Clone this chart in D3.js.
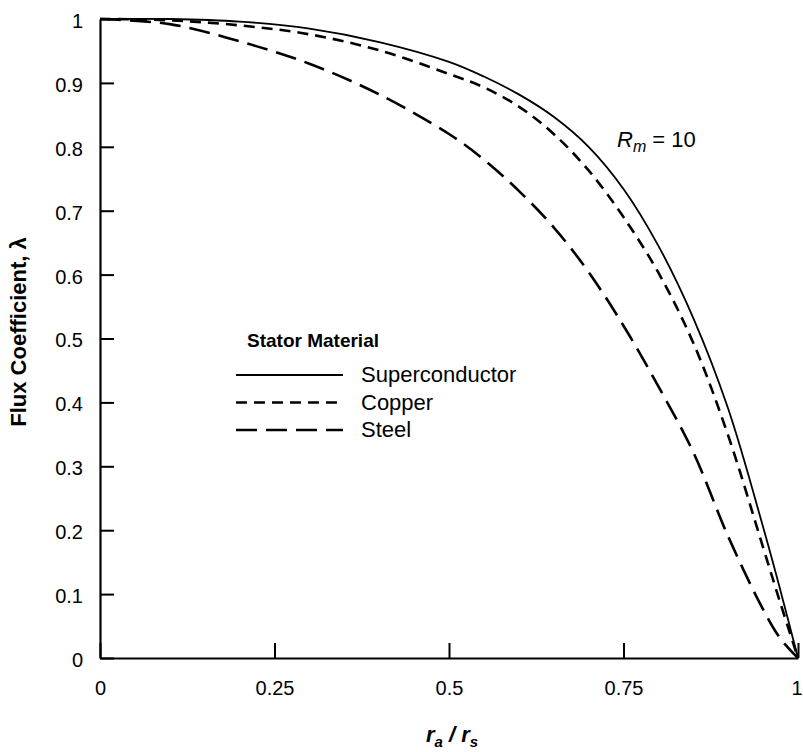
<!DOCTYPE html>
<html>
<head>
<meta charset="utf-8">
<script src="https://cdn.jsdelivr.net/npm/d3@7"></script>
<style>
  body { margin: 0; background: #fff; }
  svg { display: block; }
</style>
</head>
<body>
<div id="chart"></div>
<script>
// Values
const ratio = [0, 0.1, 0.2, 0.3, 0.4, 0.5, 0.55, 0.6, 0.65, 0.7, 0.75, 0.8, 0.85, 0.9, 0.95, 0.975, 1];
const superconductor = [1, 1, 0.996, 0.985, 0.964, 0.933, 0.91, 0.882, 0.847, 0.8, 0.734, 0.645, 0.532, 0.39, 0.205, 0.105, 0];
const copper = [1, 0.998, 0.99, 0.976, 0.951, 0.914, 0.893, 0.863, 0.82, 0.763, 0.69, 0.603, 0.493, 0.348, 0.173, 0.085, 0];
const steel = [1, 0.992, 0.965, 0.93, 0.882, 0.82, 0.78, 0.731, 0.674, 0.604, 0.52, 0.425, 0.322, 0.19, 0.076, 0.03, 0];

const xTicks = [0, 0.25, 0.5, 0.75, 1];
const xTickLabels = ["0", "0.25", "0.5", "0.75", "1"];
const yTicks = [0, 0.1, 0.2, 0.3, 0.4, 0.5, 0.6, 0.7, 0.8, 0.9, 1];
const yTickLabels = ["0", "0.1", "0.2", "0.3", "0.4", "0.5", "0.6", "0.7", "0.8", "0.9", "1"];

const seriesNames = ["Superconductor", "Copper", "Steel"];
const seriesDash = ["none", "11,7", "21,9"];

const width = 803, height = 752;
const font = "'Liberation Sans', Arial, sans-serif";

const svg = d3.select("#chart")
  .append("svg")
  .attr("width", width)
  .attr("height", height);

const x = d3.scaleLinear().domain([0, 1]).range([100, 798]);
const y = d3.scaleLinear().domain([0, 1]).range([658, 19]);

// Y axis, ticks pointing in
const yAxis = svg.append("g")
  .attr("transform", `translate(${x(0)},0)`)
  .call(d3.axisLeft(y)
    .tickValues(yTicks)
    .tickFormat((d, i) => yTickLabels[i])
    .tickSizeInner(-14)
    .tickSizeOuter(0)
    .tickPadding(17));

// X axis, ticks pointing up
const xAxis = svg.append("g")
  .attr("transform", `translate(0,${y(0)})`)
  .call(d3.axisBottom(x)
    .tickValues(xTicks)
    .tickFormat((d, i) => xTickLabels[i])
    .tickSizeInner(-15)
    .tickSizeOuter(0)
    .tickPadding(23));

[yAxis, xAxis].forEach(g => {
  g.select(".domain").attr("stroke", "#000").attr("stroke-width", 2.2);
  g.selectAll(".tick line").attr("stroke", "#000").attr("stroke-width", 2);
  g.selectAll(".tick text")
    .attr("fill", "#000")
    .style("font-family", font)
    .style("font-size", "20px");
});
yAxis.selectAll(".tick text").attr("dy", "0.42em");
// keep the last x label inside the picture
xAxis.selectAll(".tick text").filter(d => d === 1).attr("text-anchor", "end").attr("dx", 4);

// Curves
const seriesData = [superconductor, copper, steel];
const line = d3.line()
  .x((d, i) => x(ratio[i]))
  .y(d => y(d))
  .curve(d3.curveCatmullRom.alpha(0.5));

svg.selectAll(".curve")
  .data(seriesData)
  .join("path")
  .attr("class", "curve")
  .attr("fill", "none")
  .attr("stroke", "#000")
  .attr("stroke-width", (d, i) => i === 0 ? 1.8 : 2.6)
  .attr("stroke-dasharray", (d, i) => seriesDash[i])
  .attr("d", line);

// Legend
const legend = svg.append("g");
legend.append("text")
  .attr("x", 247)
  .attr("y", 347)
  .style("font-family", font)
  .style("font-weight", "bold")
  .style("font-size", "19px")
  .text("Stator Material");

const rows = legend.selectAll(".row")
  .data(seriesNames)
  .join("g")
  .attr("class", "row")
  .attr("transform", (d, i) => `translate(0,${375 + i * 27.5})`);

rows.append("line")
  .attr("x1", 236).attr("x2", 343)
  .attr("stroke", "#000")
  .attr("stroke-width", (d, i) => i === 0 ? 1.8 : 2.6)
  .attr("stroke-dasharray", (d, i) => seriesDash[i]);

rows.append("text")
  .attr("x", 361)
  .attr("y", 7)
  .style("font-family", font)
  .style("font-size", "22px")
  .text(d => d);

// Rm = 10 annotation
const rm = svg.append("text")
  .attr("x", 617)
  .attr("y", 147)
  .style("font-family", font)
  .style("font-size", "22px");
rm.append("tspan").style("font-style", "italic").text("R");
rm.append("tspan").style("font-style", "italic").style("font-size", "16px").attr("dy", 5).text("m");
rm.append("tspan").attr("dy", -5).text(" = 10");

// Axis titles
svg.append("text")
  .attr("transform", `translate(26,${332}) rotate(-90)`)
  .attr("text-anchor", "middle")
  .style("font-family", font)
  .style("font-weight", "bold")
  .style("font-size", "22px")
  .text("Flux Coefficient, λ");

const xt = svg.append("text")
  .attr("x", 452)
  .attr("y", 742)
  .attr("text-anchor", "middle")
  .style("font-family", font)
  .style("font-weight", "bold")
  .style("font-style", "italic")
  .style("font-size", "22px");
xt.append("tspan").text("r");
xt.append("tspan").style("font-size", "15px").attr("dy", 5).text("a");
xt.append("tspan").attr("dy", -5).text(" / r");
xt.append("tspan").style("font-size", "15px").attr("dy", 5).text("s");
</script>
</body>
</html>
